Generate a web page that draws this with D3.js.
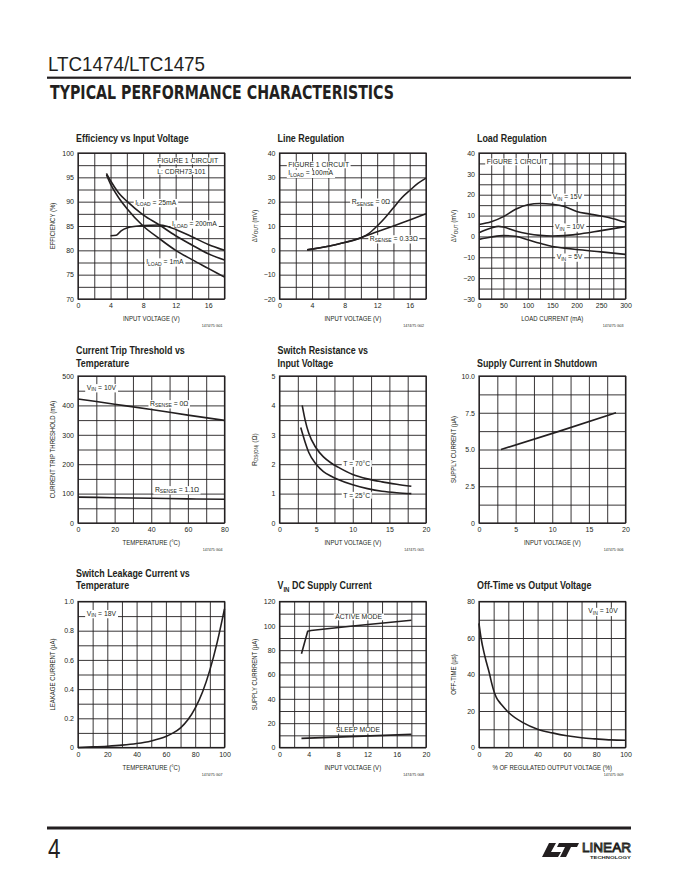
<!DOCTYPE html>
<html>
<head>
<meta charset="utf-8">
<script src="https://cdn.jsdelivr.net/npm/d3@7"></script>
<style>
  body { margin: 0; background: #fff; }
  svg { display: block; }
</style>
</head>
<body>
<svg id="page" width="680" height="880"></svg>
<script>
// ---- values ----

// Efficiency vs Input Voltage  [V, %]
const effLoad1mA   = [[3.5,95.5],[4,93.6],[5,90.8],[6,88.6],[8,85.0],[10,82.4],[12,80.0],[14,78.1],[16,76.3],[18,74.5]];
const effLoad25mA  = [[3.5,95.8],[4,94.3],[5,91.8],[6,90.1],[8,87.3],[10,85.2],[12,83.0],[14,81.1],[16,79.3],[18,78.0]];
const effLoad200mA = [[4,83.0],[4.7,83.1],[5.3,84.0],[6,84.6],[8,85.1],[10,85.2],[11,84.9],[12,84.3],[14,82.8],[16,81.2],[18,80.0]];
const effXTicks = [0, 4, 8, 12, 16];
const effYTicks = [70, 75, 80, 85, 90, 95, 100];

// Line Regulation  [V, mV]
const lineRegR0   = [[3.4,0.2],[4,0.5],[6,1.7],[8,3.2],[10,5.2],[11,7],[12,10],[13,13.5],[14,17.5],[15,21.5],[16,24.6],[17,27.5],[18,29.7]];
const lineRegR033 = [[3.4,0.2],[4,0.5],[6,1.7],[8,3.2],[10,5.2],[12,7.6],[14,10],[16,12.5],[18,15]];
const lineXTicks = [0, 4, 8, 12, 16];
const lineYTicks = [-20, -10, 0, 10, 20, 30, 40];

// Load Regulation  [mA, mV]
const load15V = [[0,5.7],[25,7],[50,9.5],[75,13],[100,15.2],[125,15.8],[150,15.4],[175,14.3],[200,12],[225,10.8],[250,9.8],[275,8.5],[300,6.8]];
const load10V = [[0,1.8],[25,4],[40,4.8],[50,4.5],[75,2.6],[100,1.3],[125,0.5],[150,0.2],[175,0.4],[200,1],[250,2.8],[300,4.7]];
const load5V  = [[0,-1.4],[25,-0.3],[50,0.4],[75,0.1],[100,-1.6],[125,-3.3],[150,-4.8],[175,-5.6],[200,-6.3],[250,-7.4],[300,-8.6]];
const loadXTicks = [0, 50, 100, 150, 200, 250, 300];
const loadYTicks = [-30, -20, -10, 0, 10, 20, 30, 40];

// Current Trip Threshold vs Temperature  [°C, mA]
const tripR0  = [[0,422],[20,404],[40,386],[60,367],[80,349]];
const tripR11 = [[0,88],[20,86],[40,84],[60,82],[80,81]];
const tripXTicks = [0, 20, 40, 60, 80];
const tripYTicks = [0, 100, 200, 300, 400, 500];

// Switch Resistance vs Input Voltage  [V, Ω]
const rds70C = [[3.1,4.0],[3.5,3.5],[4,3.05],[5,2.55],[6,2.25],[7,2.05],[8,1.9],[10,1.65],[12,1.5],[14,1.4],[16,1.32],[18,1.25]];
const rds25C = [[2.9,3.25],[3.5,2.75],[4,2.4],[5,2.0],[6,1.75],[7,1.6],[8,1.48],[10,1.3],[12,1.17],[14,1.08],[16,1.03],[18,1.0]];
const rdsXTicks = [0, 5, 10, 15, 20];
const rdsYTicks = [0, 1, 2, 3, 4, 5];

// Supply Current in Shutdown  [V, µA]
const shutdownCurrent = [[3,5.0],[11,6.25],[18.7,7.5]];
const shdnXTicks = [0, 5, 10, 15, 20];
const shdnYTicks = [0, 2.5, 5, 7.5, 10];

// Switch Leakage Current vs Temperature  [°C, µA]
const leakage = [[0,0],[10,0.004],[20,0.009],[30,0.016],[40,0.027],[50,0.045],[60,0.075],[65,0.1],[70,0.135],[75,0.19],[80,0.27],[85,0.38],[90,0.53],[95,0.72],[100,0.95]];
const leakXTicks = [0, 20, 40, 60, 80, 100];
const leakYTicks = [0, 0.2, 0.4, 0.6, 0.8, 1.0];

// VIN DC Supply Current  [V, µA]
const activeMode = [[3,77],[3.85,95.5],[4.3,96.2],[10,99.8],[18,104.6]];
const sleepMode  = [[3,7.5],[18,10.8]];
const supXTicks = [0, 4, 8, 12, 16, 20];
const supYTicks = [0, 20, 40, 60, 80, 100, 120];

// Off-Time vs Output Voltage  [%, µs]
const offTime = [[0,68],[1.4,60],[4,50],[7.3,40],[8,37.5],[9,34.2],[10,31.3],[11,29],[12,27.2],[13.5,25.3],[15,23.8],[20,19.3],[30,13.6],[40,10],[50,8],[60,6.4],[70,5.3],[80,4.7],[90,4.2],[100,4]];
const offXTicks = [0, 20, 40, 60, 80, 100];
const offYTicks = [0, 20, 40, 60, 80];

// ---- layout ----
const ink = '#231f20';
const sans = '"Liberation Sans", Arial, sans-serif';
const cols = [78, 279.5, 479];
const plotW = 146.5;
const rows = [
  { top: 153,   h: 146, title: 141.5 },
  { top: 376,   h: 147, title: 366.5 },
  { top: 601.5, h: 146, title: 589 }
];

const svg = d3.select('#page');

// writes "I_{LOAD} = 25mA" style strings as tspans with subscripts
function richText(sel, str, subSize, subDy) {
  const parts = str.split(/(_\{[^}]*\})/).filter(s => s.length);
  let down = false;
  parts.forEach(p => {
    if (p.startsWith('_{')) {
      sel.append('tspan').attr('dy', subDy).style('font-size', subSize + 'px').text(p.slice(2, -1));
      down = true;
    } else {
      const t = sel.append('tspan').text(p);
      if (down) { t.attr('dy', -subDy); down = false; }
    }
  });
  return sel;
}

function drawChart(c) {
  const x0 = cols[c.col], r = rows[c.row], y0 = r.top, h = r.h, w = plotW;
  const x = d3.scaleLinear().domain(c.xDomain).range([x0, x0 + w]);
  const y = d3.scaleLinear().domain(c.yDomain).range([y0 + h, y0]);
  const g = svg.append('g');

  // grid
  const xs = d3.range(c.xDomain[0], c.xDomain[1] + 1e-9, c.xGrid);
  const ys = d3.range(c.yDomain[0], c.yDomain[1] + 1e-9, c.yGrid);
  g.append('g')
    .attr('transform', `translate(0,${y0 + h})`)
    .call(d3.axisBottom(x).tickValues(xs).tickSize(-h).tickFormat(''))
    .call(a => a.select('.domain').remove())
    .selectAll('line').attr('stroke', ink).attr('stroke-width', 0.9);
  g.append('g')
    .attr('transform', `translate(${x0},0)`)
    .call(d3.axisLeft(y).tickValues(ys).tickSize(-w).tickFormat(''))
    .call(a => a.select('.domain').remove())
    .selectAll('line').attr('stroke', ink).attr('stroke-width', 0.9);
  g.append('rect')
    .attr('x', x0).attr('y', y0).attr('width', w).attr('height', h)
    .attr('fill', 'none').attr('stroke', ink).attr('stroke-width', 1.2);

  // tick labels
  const styleTicks = a => {
    a.select('.domain').remove();
    a.attr('font-family', sans).attr('font-size', 7);
    a.selectAll('text').attr('fill', ink);
  };
  g.append('g')
    .attr('transform', `translate(0,${y0 + h})`)
    .call(d3.axisBottom(x).tickValues(c.xTicks).tickSize(0).tickPadding(4.5))
    .call(styleTicks);
  g.append('g')
    .attr('transform', `translate(${x0},0)`)
    .call(d3.axisLeft(y).tickValues(c.yTicks).tickSize(0).tickPadding(4).tickFormat(c.yFmt || d3.format('')))
    .call(styleTicks);

  // axis titles (condensed by a horizontal squeeze)
  g.append('text')
    .attr('transform', `translate(${x0 + w / 2},${y0 + h + 22}) scale(0.86,1)`)
    .attr('text-anchor', 'middle')
    .attr('font-family', sans).attr('font-size', 7).attr('fill', ink)
    .text(c.xLabel);
  const yt = g.append('text')
    .attr('transform', `translate(${x0 - 23},${y0 + h / 2}) rotate(-90) scale(0.86,1)`)
    .attr('text-anchor', 'middle')
    .attr('font-family', sans).attr('font-size', c.yLabelSize || 7).attr('fill', ink)
    .style('white-space', 'pre');
  richText(yt, c.yLabel, 5.3, 1.5);

  // figure code
  g.append('text')
    .attr('x', x0 + w - 2).attr('y', y0 + h + 28)
    .attr('text-anchor', 'end')
    .attr('font-family', sans).attr('font-size', 3.6).attr('fill', ink)
    .text(c.code);

  // chart title
  c.title.forEach((t, i) => {
    const tt = g.append('text')
      .attr('transform', `translate(${x0 - 2},${r.title - (c.title.length - 1 - i) * 12.5}) scale(0.81,1)`)
      .attr('font-family', sans).attr('font-weight', 'bold').attr('font-size', 11).attr('fill', ink)
      .style('white-space', 'pre');
    richText(tt, t, 7.5, 2.5);
  });

  // labels (white boxes under the curves, text above them)
  const bgG = g.append('g');
  const curveG = g.append('g');
  const textG = g.append('g');

  const line = d3.line().x(d => x(d[0])).y(d => y(d[1])).curve(c.curve || d3.curveMonotoneX);
  c.series.forEach(s => {
    curveG.append('path')
      .datum(s)
      .attr('fill', 'none').attr('stroke', ink).attr('stroke-width', 1.6)
      .attr('stroke-linejoin', 'round')
      .attr('d', line);
  });

  (c.labels || []).forEach(l => {
    const t = textG.append('text')
      .attr('x', x(l.x)).attr('y', y(l.y) + 2.5)
      .attr('font-family', sans).attr('font-size', 6.8).attr('fill', ink)
      .style('white-space', 'pre');
    richText(t, l.t, 5, 1.5);
    const b = t.node().getBBox();
    bgG.append('rect')
      .attr('x', b.x - 1.5).attr('y', b.y + 0.3)
      .attr('width', b.width + 3).attr('height', b.height - 0.2)
      .attr('fill', '#fff');
  });
}

const charts = [
  { col: 0, row: 0, title: ['Efficiency vs Input Voltage'], code: '1474/75 G01',
    xDomain: [0, 18], xGrid: 2, xTicks: effXTicks, yDomain: [70, 100], yGrid: 2.5, yTicks: effYTicks,
    xLabel: 'INPUT VOLTAGE (V)', yLabel: 'EFFICIENCY (%)',
    series: [effLoad1mA, effLoad25mA, effLoad200mA],
    labels: [
      { t: 'FIGURE 1 CIRCUIT', x: 9.74, y: 98.4 },
      { t: 'L: CDRH73-101', x: 9.74, y: 96.3 },
      { t: 'I_{LOAD} = 25mA', x: 7.03, y: 89.9 },
      { t: 'I_{LOAD} = 200mA', x: 11.55, y: 85.5 },
      { t: 'I_{LOAD} = 1mA', x: 8.38, y: 77.7 }
    ] },
  { col: 1, row: 0, title: ['Line Regulation'], code: '1474/75 G02',
    xDomain: [0, 18], xGrid: 2, xTicks: lineXTicks, yDomain: [-20, 40], yGrid: 5, yTicks: lineYTicks,
    xLabel: 'INPUT VOLTAGE (V)', yLabel: 'ΔV_{OUT} (mV)',
    series: [lineRegR0, lineRegR033],
    labels: [
      { t: 'FIGURE 1 CIRCUIT', x: 1.08, y: 35.2 },
      { t: 'I_{LOAD} = 100mA', x: 1.08, y: 31.8 },
      { t: 'R_{SENSE} = 0Ω', x: 8.87, y: 20 },
      { t: 'R_{SENSE} = 0.33Ω', x: 11.1, y: 4.9 }
    ] },
  { col: 2, row: 0, title: ['Load Regulation'], code: '1474/75 G03',
    xDomain: [0, 300], xGrid: 25, xTicks: loadXTicks, yDomain: [-30, 40], yGrid: 5, yTicks: loadYTicks,
    xLabel: 'LOAD CURRENT (mA)', yLabel: 'ΔV_{OUT} (mV)',
    series: [load15V, load10V, load5V],
    labels: [
      { t: 'FIGURE 1 CIRCUIT', x: 15.7, y: 35.8 },
      { t: 'V_{IN} = 15V', x: 151, y: 19 },
      { t: 'V_{IN} = 10V', x: 155.6, y: 4.7 },
      { t: 'V_{IN} = 5V', x: 159, y: -9.7 }
    ] },
  { col: 0, row: 1, title: ['Current Trip Threshold vs', 'Temperature'], code: '147475 G04',
    xDomain: [0, 80], xGrid: 10, xTicks: tripXTicks, yDomain: [0, 500], yGrid: 50, yTicks: tripYTicks,
    xLabel: 'TEMPERATURE (°C)', yLabel: 'CURRENT TRIP THRESHOLD (mA)',
    series: [tripR0, tripR11],
    labels: [
      { t: 'V_{IN} = 10V', x: 4.75, y: 461.6 },
      { t: 'R_{SENSE} = 0Ω', x: 39.3, y: 407 },
      { t: 'R_{SENSE} = 1.1Ω', x: 42, y: 114.6 }
    ] },
  { col: 1, row: 1, title: ['Switch Resistance vs', 'Input Voltage'], code: '147475 G05',
    xDomain: [0, 20], xGrid: 2.5, xTicks: rdsXTicks, yDomain: [0, 5], yGrid: 0.5, yTicks: rdsYTicks,
    xLabel: 'INPUT VOLTAGE (V)', yLabel: 'R_{DS(ON)} (Ω)', yLabelSize: 8,
    series: [rds70C, rds25C],
    labels: [
      { t: 'T = 70°C', x: 8.7, y: 2.03 },
      { t: 'T = 25°C', x: 8.7, y: 0.95 }
    ] },
  { col: 2, row: 1, title: ['Supply Current in Shutdown'], code: '147475 G06',
    xDomain: [0, 20], xGrid: 2.5, xTicks: shdnXTicks, yDomain: [0, 10], yGrid: 1.25, yTicks: shdnYTicks,
    yFmt: d => d === 0 ? '0' : d.toFixed(1),
    xLabel: 'INPUT VOLTAGE (V)', yLabel: 'SUPPLY CURRENT (µA)',
    series: [shutdownCurrent], curve: d3.curveLinear },
  { col: 0, row: 2, title: ['Switch Leakage Current vs', 'Temperature'], code: '1474/75 G07',
    xDomain: [0, 100], xGrid: 10, xTicks: leakXTicks, yDomain: [0, 1], yGrid: 0.1, yTicks: leakYTicks,
    yFmt: d => d === 0 ? '0' : d.toFixed(1),
    xLabel: 'TEMPERATURE (°C)', yLabel: 'LEAKAGE CURRENT (µA)',
    series: [leakage],
    labels: [ { t: 'V_{IN} = 18V', x: 5.9, y: 0.92 } ] },
  { col: 1, row: 2, title: ['V_{IN} DC Supply Current'], code: '1474/75 G08',
    xDomain: [0, 20], xGrid: 2, xTicks: supXTicks, yDomain: [0, 120], yGrid: 10, yTicks: supYTicks,
    xLabel: 'INPUT VOLTAGE (V)', yLabel: 'SUPPLY CURRRENT (µA)',
    series: [activeMode, sleepMode], curve: d3.curveLinear,
    labels: [
      { t: 'ACTIVE MODE', x: 7.6, y: 107.5 },
      { t: 'SLEEP MODE', x: 7.7, y: 14.4 }
    ] },
  { col: 2, row: 2, title: ['Off-Time vs Output Voltage'], code: '147475 G09',
    xDomain: [0, 100], xGrid: 10, xTicks: offXTicks, yDomain: [0, 80], yGrid: 10, yTicks: offYTicks,
    xLabel: '% OF REGULATED OUTPUT VOLTAGE (%)', yLabel: 'OFF-TIME (µs)',
    series: [offTime],
    labels: [ { t: 'V_{IN} = 10V', x: 74.6, y: 74.8 } ] }
];

charts.forEach(drawChart);

// ---- page header ----
svg.append('text')
  .attr('x', 48).attr('y', 71)
  .attr('font-family', sans).attr('font-size', 21).attr('fill', ink)
  .attr('textLength', 157).attr('lengthAdjust', 'spacingAndGlyphs')
  .text('LTC1474/LTC1475');
svg.append('rect').attr('x', 47).attr('y', 76.6).attr('width', 584).attr('height', 2.2).attr('fill', ink);
svg.append('text')
  .attr('x', 50).attr('y', 98.5)
  .attr('font-family', '"DejaVu Sans", sans-serif').attr('font-weight', 'bold').attr('font-size', 19)
  .attr('textLength', 344).attr('lengthAdjust', 'spacingAndGlyphs')
  .attr('fill', ink)
  .text('TYPICAL PERFORMANCE CHARACTERISTICS');

// ---- page footer ----
svg.append('rect').attr('x', 47).attr('y', 826.5).attr('width', 584).attr('height', 3).attr('fill', ink);
svg.append('text')
  .attr('x', 48).attr('y', 858)
  .attr('font-family', sans).attr('font-size', 28).attr('fill', ink)
  .attr('transform', 'translate(48,0) scale(0.8,1) translate(-48,0)')
  .text('4');

// logo
const logo = svg.append('g').attr('fill', ink);
logo.append('path').attr('d', 'M549,843 L556,843 L551,852 L561,852 L558,857 L542,857 Z');
logo.append('path').attr('d', 'M559,843 L579,843 L577,847 L571,847 L566,857 L560,857 L565,847 L557,847 Z');
logo.append('text')
  .attr('x', 582).attr('y', 851.5)
  .attr('font-family', sans).attr('font-size', 12.5).attr('fill', 'none')
  .attr('stroke', ink).attr('stroke-width', 0.9)
  .attr('textLength', 49).attr('lengthAdjust', 'spacingAndGlyphs')
  .text('LINEAR');
logo.append('text')
  .attr('x', 590).attr('y', 858.8)
  .attr('font-family', sans).attr('font-weight', 'bold').attr('font-size', 4.3)
  .attr('textLength', 41).attr('lengthAdjust', 'spacingAndGlyphs')
  .text('TECHNOLOGY');
</script>
</body>
</html>
